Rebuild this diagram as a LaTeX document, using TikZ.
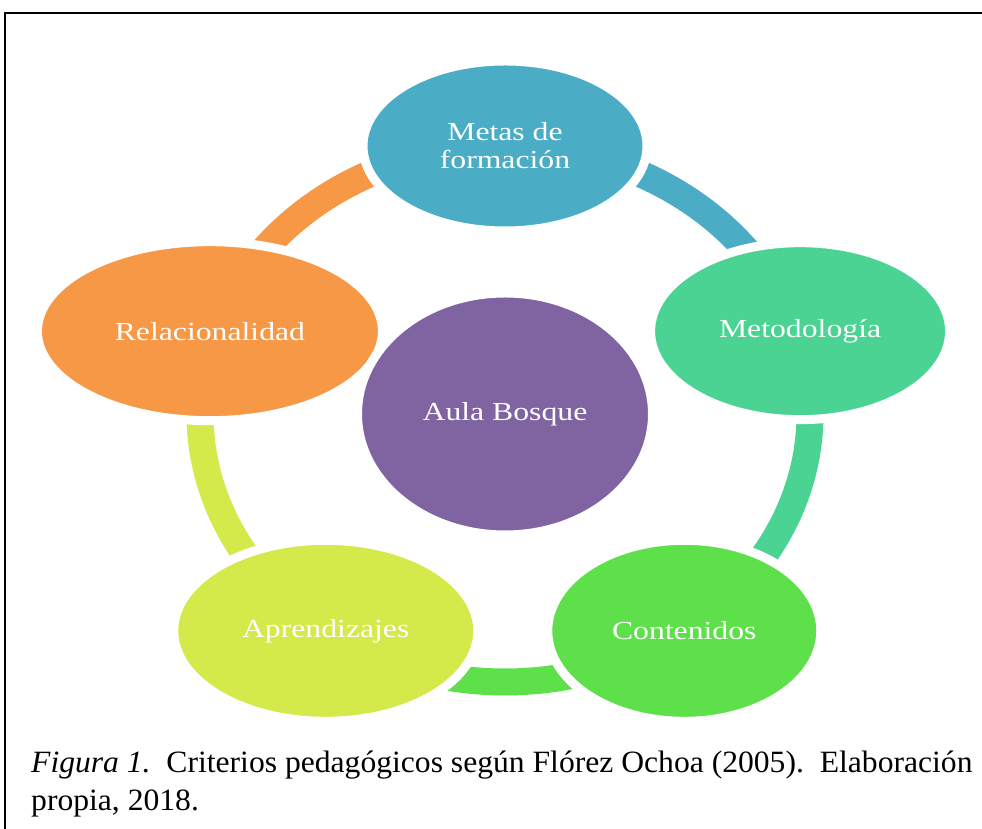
\documentclass[tikz,border=0pt]{standalone}
\usepackage{fontspec}
\setmainfont[FakeStretch=1.02]{Liberation Serif}
\newfontfamily\criteriofont[FakeStretch=1.22]{Liberation Serif}
\usetikzlibrary{shapes.geometric, backgrounds}

\definecolor{MetasFill}{HTML}{4BACC6}
\definecolor{MetodologiaFill}{HTML}{4AD392}
\definecolor{ContenidosFill}{HTML}{5EE04B}
\definecolor{AprendizajesFill}{HTML}{D4EA4B}
\definecolor{RelacionalidadFill}{HTML}{F79846}
\definecolor{AulaFill}{HTML}{8064A2}

\tikzset{
  criterio/.style={ellipse, draw=white, line width=9pt, inner sep=0pt, text=white,
    align=center, font=\criteriofont\fontsize{26}{28}\selectfont},
  anillo/.style={line width=27pt, line cap=butt},
}

\begin{document}
\begin{tikzpicture}[x=1pt, y=1pt]

\useasboundingbox (0,0) rectangle (982,829);
\clip (0,0) rectangle (982,829);

% Marco
\draw[line width=2pt] (5,-5) |- (990,816);

\coordinate (hub) at (505,415);

% Criterios
\node[criterio, fill=MetasFill, minimum width=284pt, minimum height=170pt]
  (metas) at ([shift={(90:305 and 268)}]hub) {Metas de\\formación};
\node[criterio, fill=MetodologiaFill, minimum width=299pt, minimum height=177pt]
  (metodologia) at ([shift={(18:305 and 268)}, xshift=5pt]hub) {Metodología};
\node[criterio, fill=ContenidosFill, minimum width=273pt, minimum height=181pt]
  (contenidos) at ([shift={(-54:305 and 268)}]hub) {Contenidos};
\node[criterio, fill=AprendizajesFill, minimum width=304pt, minimum height=181pt]
  (aprendizajes) at ([shift={(-126:305 and 268)}]hub) {Aprendizajes};
\node[criterio, fill=RelacionalidadFill, minimum width=345pt, minimum height=179pt]
  (relacionalidad) at ([shift={(162:305 and 268)}, xshift=-5pt]hub) {Relacionalidad};

\node[criterio, fill=AulaFill, minimum width=295pt, minimum height=242pt]
  (aula) at (hub) {Aula Bosque};

% Anillo
\begin{scope}[on background layer]
\draw[anillo, MetasFill] (metas.center)
  arc[start angle=90, end angle=18, x radius=305pt, y radius=268pt];
\draw[anillo, MetodologiaFill] ([xshift=-5pt]metodologia.center)
  arc[start angle=18, end angle=-54, x radius=305pt, y radius=268pt];
\draw[anillo, ContenidosFill] (contenidos.center)
  arc[start angle=-54, end angle=-126, x radius=305pt, y radius=268pt];
\draw[anillo, AprendizajesFill] (aprendizajes.center)
  arc[start angle=-126, end angle=-198, x radius=305pt, y radius=268pt];
\draw[anillo, RelacionalidadFill] ([xshift=5pt]relacionalidad.center)
  arc[start angle=162, end angle=90, x radius=305pt, y radius=268pt];
\end{scope}

% Pie de figura
\node[anchor=base west, inner sep=0pt, font=\fontsize{31}{38}\selectfont] (pie1) at (31,56)
  {\textit{Figura 1.}\ \ Criterios pedagógicos según Flórez Ochoa (2005).\ \ Elaboración};
\node[anchor=base west, inner sep=0pt, font=\fontsize{31}{38}\selectfont] (pie2) at (31,18)
  {propia, 2018.};

\end{tikzpicture}
\end{document}
